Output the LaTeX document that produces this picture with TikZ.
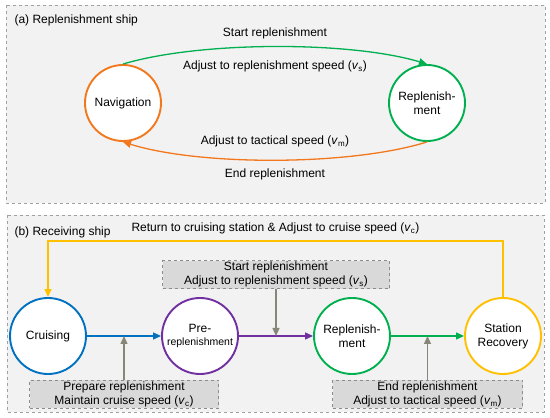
\documentclass[tikz,border=0pt]{standalone}
\usepackage{fontspec}
\setmainfont{Liberation Sans}
\usetikzlibrary{arrows.meta, positioning}

\definecolor{orng}{RGB}{242,120,30}
\definecolor{grn}{RGB}{0,176,80}
\definecolor{blu}{RGB}{0,112,192}
\definecolor{prpl}{RGB}{112,48,160}
\definecolor{yel}{RGB}{255,192,0}
\definecolor{panelfill}{RGB}{242,242,242}
\definecolor{panelline}{RGB}{160,160,160}
\definecolor{boxfill}{RGB}{217,217,217}
\definecolor{boxline}{RGB}{140,140,140}
\definecolor{hint}{RGB}{135,135,120}

\newcommand{\spd}[1]{(\textit{v}\textsubscript{#1})}

\begin{document}
\begin{tikzpicture}[
    x=1pt, y=1pt,
    font=\fontsize{12}{14}\selectfont,
    state/.style={circle, draw, fill=white, line width=1.9pt, minimum size=76pt, inner sep=1pt, align=center},
    panel/.style={draw=panelline, fill=panelfill, dashed, line width=0.8pt},
    note/.style={rectangle, draw=boxline, fill=boxfill, dashed, line width=0.8pt, minimum height=28pt, align=center, inner sep=1pt},
    flow/.style={line width=1.3pt, -{Triangle[length=8pt, width=7pt]}},
    hintarrow/.style={hint, line width=1.3pt, -{Triangle[length=8pt, width=7pt]}}
]
\useasboundingbox (0,0) rectangle (550,418);

% Panels
\draw[panel] (6,413) rectangle (545,215);
\draw[panel] (7,203) rectangle (544,6);

% (a) Replenishment ship
\node[anchor=west] (titlea) at (11,398) {(a) Replenishment ship};
\node[state, draw=orng] (nav) at (123,315) {Navigation};
\node[state, draw=grn] (repa) at (427,315) {Replenish-\\ment};

\draw[flow, grn] (nav.north) .. controls (200,377) and (350,377) .. (repa.north)
    node[midway, above=4pt, black] {Start replenishment}
    node[midway, below=10pt, black] {Adjust to replenishment speed \spd{s}};
\draw[flow, orng] (repa.south) .. controls (350,252) and (200,252) .. (nav.south)
    node[midway, above=9pt, black] {Adjust to tactical speed \spd{m}}
    node[midway, below=5pt, black] {End replenishment};

% (b) Receiving ship
\node[anchor=west] (titleb) at (11,186) {(b) Receiving ship};
\node[state, draw=blu] (cru) at (48,82) {Cruising};
\node[state, draw=prpl] (pre) at (200,82) {Pre-\\[-1pt]{\fontsize{10.5}{12}\selectfont replenishment}};
\node[state, draw=grn] (repb) at (352,82) {Replenish-\\ment};
\node[state, draw=yel] (sta) at (503,82) {Station\\Recovery};

\draw[flow, blu] (cru) -- coordinate (m1) (pre);
\draw[flow, prpl] (pre) -- coordinate (m2) (repb);
\draw[flow, grn] (repb) -- coordinate (m3) (sta);
\draw[flow, yel] (sta.north) -- ++(0,56) -| (cru.north)
    node[pos=0.25, above=3pt, black] {Return to cruising station \& Adjust to cruise speed \spd{c}};

% Notes
\node[note, minimum width=227pt, above=47pt of m2] (n2) {Start replenishment\\Adjust to replenishment speed \spd{s}};
\node[note, minimum width=189pt, below=44pt of m1] (n1) {Prepare replenishment\\Maintain cruise speed \spd{c}};
\node[note, minimum width=190pt, below=44pt of m3] (n3) {End replenishment\\Adjust to tactical speed \spd{m}};

\draw[hintarrow] (n2.south) -- (m2);
\draw[hintarrow] (n1.north) -- (m1);
\draw[hintarrow] (n3.north) -- (m3);

\end{tikzpicture}
\end{document}
